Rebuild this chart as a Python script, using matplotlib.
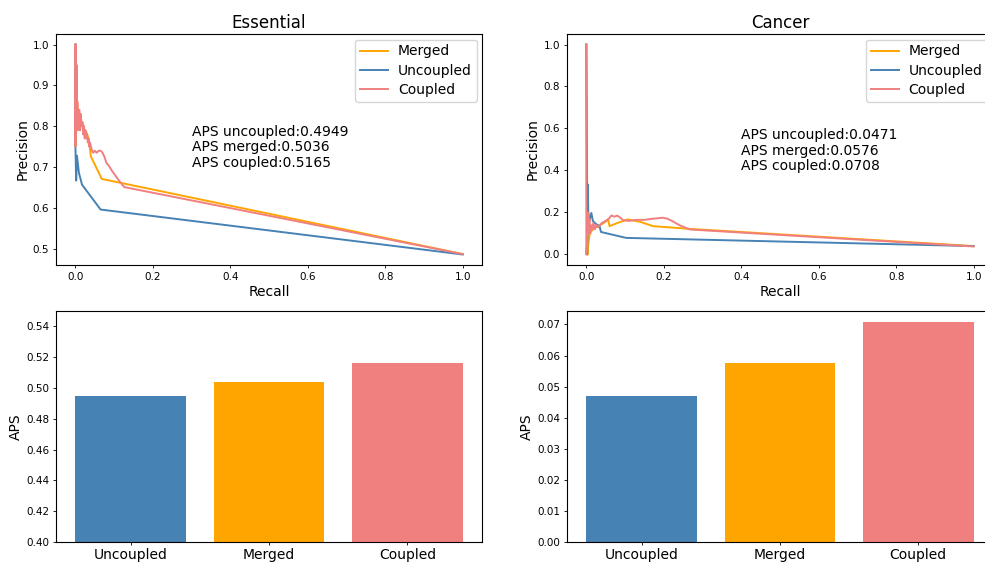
import matplotlib
matplotlib.use("Agg")
import matplotlib.pyplot as plt

# precision/recall curves, essential genes
ess_uncoupled_recall = [0.0, 0.0, 0.002, 0.004, 0.009, 0.017, 0.065, 1.0]
ess_uncoupled_precision = [1.0, 0.75, 0.667, 0.728, 0.686, 0.657, 0.596, 0.486]
ess_merged_recall = [0.0, 0.0, 0.002, 0.004, 0.008, 0.012, 0.018, 0.024, 0.029, 0.034, 0.040, 0.068, 1.0]
ess_merged_precision = [1.0, 0.75, 0.86, 0.865, 0.82, 0.80, 0.81, 0.79, 0.784, 0.77, 0.726, 0.671, 0.487]
ess_coupled_recall = [0.0, 0.0, 0.001, 0.002, 0.003, 0.004, 0.005, 0.006, 0.007, 0.008, 0.010, 0.012,
                      0.014, 0.016, 0.018, 0.020, 0.022, 0.024, 0.026, 0.028, 0.030, 0.032, 0.034, 0.036,
                      0.038, 0.040, 0.043, 0.046, 0.050, 0.055, 0.060, 0.065, 0.070, 0.075, 0.080, 0.085,
                      0.095, 0.110, 0.126, 1.0]
ess_coupled_precision = [1.0, 0.75, 1.0, 0.85, 0.95, 0.80, 0.86, 0.79, 0.82, 0.80, 0.84, 0.79,
                         0.83, 0.80, 0.81, 0.78, 0.80, 0.77, 0.79, 0.77, 0.78, 0.76, 0.77, 0.75,
                         0.76, 0.75, 0.74, 0.735, 0.74, 0.735, 0.74, 0.74, 0.735, 0.725, 0.71, 0.705,
                         0.69, 0.67, 0.651, 0.487]

# precision/recall curves, cancer genes
can_uncoupled_recall = [0.0, 0.002, 0.004, 0.005, 0.008, 0.013, 0.017, 0.025, 0.034, 0.038, 0.103, 1.0]
can_uncoupled_precision = [1.0, 0.0, 0.333, 0.2, 0.16, 0.198, 0.159, 0.145, 0.135, 0.107, 0.079, 0.040]
can_merged_recall = [0.0, 0.003, 0.005, 0.008, 0.012, 0.017, 0.025, 0.034, 0.045, 0.056, 0.060,
                     0.080, 0.107, 0.140, 0.172, 0.267, 1.0]
can_merged_precision = [1.0, 0.0, 0.048, 0.09, 0.11, 0.119, 0.13, 0.138, 0.15, 0.167, 0.135,
                        0.15, 0.167, 0.155, 0.135, 0.122, 0.040]
can_coupled_recall = [0.0, 0.0, 0.002, 0.003, 0.004, 0.005, 0.006, 0.008, 0.010, 0.012, 0.015,
                      0.018, 0.022, 0.026, 0.030, 0.040, 0.050, 0.058, 0.065, 0.072, 0.080, 0.088,
                      0.095, 0.110, 0.130, 0.150, 0.170, 0.198, 0.210, 0.222, 0.240, 0.267, 1.0]
can_coupled_precision = [1.0, 0.0, 0.05, 0.15, 0.10, 0.20, 0.11, 0.17, 0.10, 0.14, 0.12,
                         0.15, 0.12, 0.14, 0.13, 0.15, 0.16, 0.17, 0.186, 0.18, 0.185, 0.175,
                         0.163, 0.16, 0.165, 0.165, 0.17, 0.175, 0.17, 0.159, 0.14, 0.119, 0.038]

# average precision scores
methods = ["Uncoupled", "Merged", "Coupled"]
aps_essential = [0.4949, 0.5036, 0.5165]
aps_cancer = [0.0471, 0.0576, 0.0708]

c_uncoupled = "steelblue"
c_merged = "orange"
c_coupled = "lightcoral"
bar_colors = [c_uncoupled, c_merged, c_coupled]

plt.rcParams["xtick.major.size"] = 2.5
plt.rcParams["ytick.major.size"] = 2.5
plt.rcParams["xtick.major.pad"] = 2.5
plt.rcParams["ytick.major.pad"] = 2.5
plt.rcParams["xtick.major.width"] = 0.6
plt.rcParams["ytick.major.width"] = 0.6
plt.rcParams["axes.labelpad"] = 2.5

fig = plt.figure(figsize=(9.85, 5.62), dpi=100)

ax_pr_ess = fig.add_axes([0.0569, 0.5285, 0.4325, 0.411])
ax_pr_can = fig.add_axes([0.5756, 0.5285, 0.4325, 0.411])
ax_bar_ess = fig.add_axes([0.0569, 0.0356, 0.4325, 0.411])
ax_bar_can = fig.add_axes([0.5756, 0.0356, 0.4325, 0.411])


def plot_pr(ax, title, merged, uncoupled, coupled, aps, text_pos):
    ax.plot(merged[0], merged[1], color=c_merged, lw=1.4, label="Merged")
    ax.plot(uncoupled[0], uncoupled[1], color=c_uncoupled, lw=1.4, label="Uncoupled")
    ax.plot(coupled[0], coupled[1], color=c_coupled, lw=1.4, label="Coupled")
    ax.set_title(title, fontsize=12, pad=4)
    ax.set_xlabel("Recall", fontsize=10)
    ax.set_ylabel("Precision", fontsize=10)
    ax.tick_params(labelsize=7.5)
    ax.legend(loc="upper right", fontsize=10, labelspacing=0.38, borderpad=0.35,
              handlelength=2.0, handletextpad=0.7, borderaxespad=0.4)
    txt = "APS uncoupled:%.4f\nAPS merged:%.4f\nAPS coupled:%.4f" % (aps[0], aps[1], aps[2])
    ax.text(text_pos[0], text_pos[1], txt, fontsize=10, linespacing=1.15)


plot_pr(ax_pr_ess, "Essential",
        (ess_merged_recall, ess_merged_precision),
        (ess_uncoupled_recall, ess_uncoupled_precision),
        (ess_coupled_recall, ess_coupled_precision),
        aps_essential, (0.3, 0.7))
plot_pr(ax_pr_can, "Cancer",
        (can_merged_recall, can_merged_precision),
        (can_uncoupled_recall, can_uncoupled_precision),
        (can_coupled_recall, can_coupled_precision),
        aps_cancer, (0.4, 0.4))

for ax, vals in [(ax_bar_ess, aps_essential), (ax_bar_can, aps_cancer)]:
    ax.bar(methods, vals, color=bar_colors)
    ax.set_ylabel("APS", fontsize=10)
    ax.tick_params(axis="y", labelsize=7.5)
    ax.tick_params(axis="x", labelsize=10, pad=1.5)

ax_bar_ess.set_ylim(0.40, 0.55)

fig.savefig("out.png", dpi=100)
